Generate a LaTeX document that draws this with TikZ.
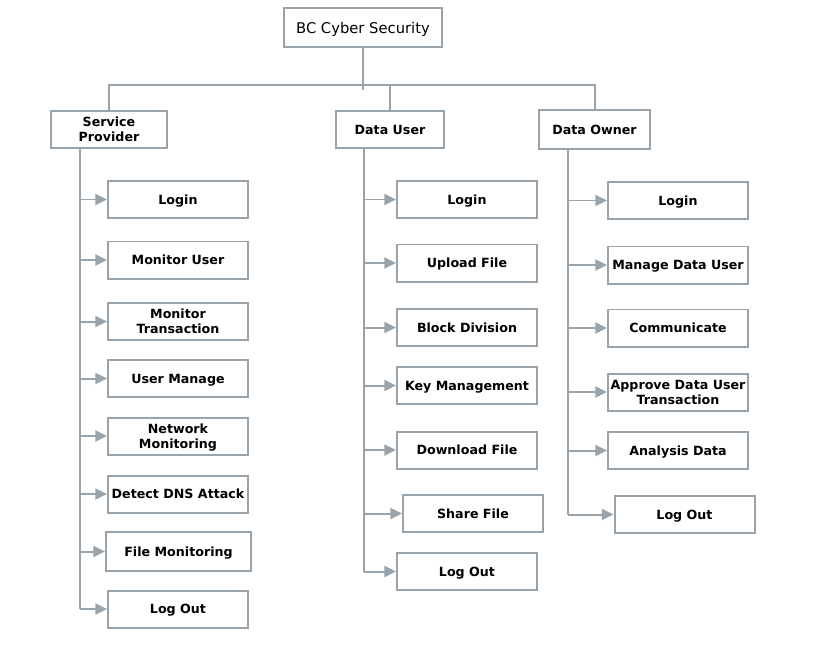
\documentclass[tikz,border=0pt]{standalone}
\usepackage{fontspec}
\setmainfont{DejaVu Sans}
\usetikzlibrary{arrows.meta}
\definecolor{linegray}{RGB}{152,163,171}

\begin{document}
\begin{tikzpicture}
	[x=0.03cm,y=-0.03cm,
	 box/.style={draw=linegray,line width=1.7pt,fill=white,align=center,inner sep=1pt,text depth=0pt,
	 	font=\fontsize{10.8}{13}\selectfont\bfseries,minimum width=4.2cm,minimum height=1.11cm},
	 conn/.style={draw=linegray,line width=1.7pt},
	 arr/.style={conn,-{Triangle[length=10pt,width=9.5pt]}}]
	\useasboundingbox (0,0) rectangle (820,646);
	% top of the tree
	\node[box,font=\fontsize{12.6}{15}\selectfont,minimum width=4.74cm,minimum height=1.17cm] (root) at (363,27.5) {BC Cyber Security};
	\node[box,minimum width=3.48cm] (sp) at (109,129.5) {Service\\Provider};
	\node[box,minimum width=3.24cm] (du) at (390,129.5) {Data User};
	\node[box,minimum width=3.33cm,minimum height=1.17cm] (do) at (594.5,129.5) {Data Owner};
	\coordinate (bus) at (root.south |- 0,85);
	\draw[conn] (root) -- ([yshift=-0.15cm]bus);
	\draw[conn] (sp.north) |- (bus) -| (do.north);
	\draw[conn] (du.north) -- (du.north |- bus);
	% service provider
	\node[box] (sp1) at (178,199.5) {Login};
	\node[box] (sp2) at (178,260) {Monitor User};
	\node[box] (sp3) at (178,321.5) {Monitor\\Transaction};
	\node[box] (sp4) at (178,378.5) {User Manage};
	\node[box] (sp5) at (178,436) {Network\\Monitoring};
	\node[box] (sp6) at (178,494) {Detect DNS Attack};
	\node[box,minimum width=4.35cm,minimum height=1.17cm] (sp7) at (178.5,551.5) {File Monitoring};
	\node[box] (sp8) at (178,609) {Log Out};
	\coordinate (spt) at (sp.south -| 80,0);
	\draw[conn] (spt) -- (spt |- sp8);
	\draw[arr] (spt |- sp1) -- (sp1);
	\draw[arr] (spt |- sp2) -- (sp2);
	\draw[arr] (spt |- sp3) -- (sp3);
	\draw[arr] (spt |- sp4) -- (sp4);
	\draw[arr] (spt |- sp5) -- (sp5);
	\draw[arr] (spt |- sp6) -- (sp6);
	\draw[arr] (spt |- sp7) -- (sp7);
	\draw[arr] (spt |- sp8) -- (sp8);
	% data user
	\node[box] (du1) at (467,199.5) {Login};
	\node[box] (du2) at (467,263) {Upload File};
	\node[box] (du3) at (467,327.5) {Block Division};
	\node[box] (du4) at (467,385.5) {Key Management};
	\node[box] (du5) at (467,450) {Download File};
	\node[box] (du6) at (473,513.5) {Share File};
	\node[box] (du7) at (467,571.5) {Log Out};
	\coordinate (dut) at (du.south -| 364,0);
	\draw[conn] (dut) -- (dut |- du7);
	\draw[arr] (dut |- du1) -- (du1);
	\draw[arr] (dut |- du2) -- (du2);
	\draw[arr] (dut |- du3) -- (du3);
	\draw[arr] (dut |- du4) -- (du4);
	\draw[arr] (dut |- du5) -- (du5);
	\draw[arr] (dut |- du6) -- (du6);
	\draw[arr] (dut |- du7) -- (du7);
	% data owner
	\node[box] (do1) at (678,200.5) {Login};
	\node[box] (do2) at (678,265) {Manage Data User};
	\node[box] (do3) at (678,328) {Communicate};
	\node[box] (do4) at (678,392) {Approve Data User\\Transaction};
	\node[box] (do5) at (678,450.5) {Analysis Data};
	\node[box] (do6) at (684.5,514.5) {Log Out};
	\coordinate (dot) at (do.south -| 568,0);
	\draw[conn] (dot) -- (dot |- do6);
	\draw[arr] (dot |- do1) -- (do1);
	\draw[arr] (dot |- do2) -- (do2);
	\draw[arr] (dot |- do3) -- (do3);
	\draw[arr] (dot |- do4) -- (do4);
	\draw[arr] (dot |- do5) -- (do5);
	\draw[arr] (dot |- do6) -- (do6);
\end{tikzpicture}
\end{document}
